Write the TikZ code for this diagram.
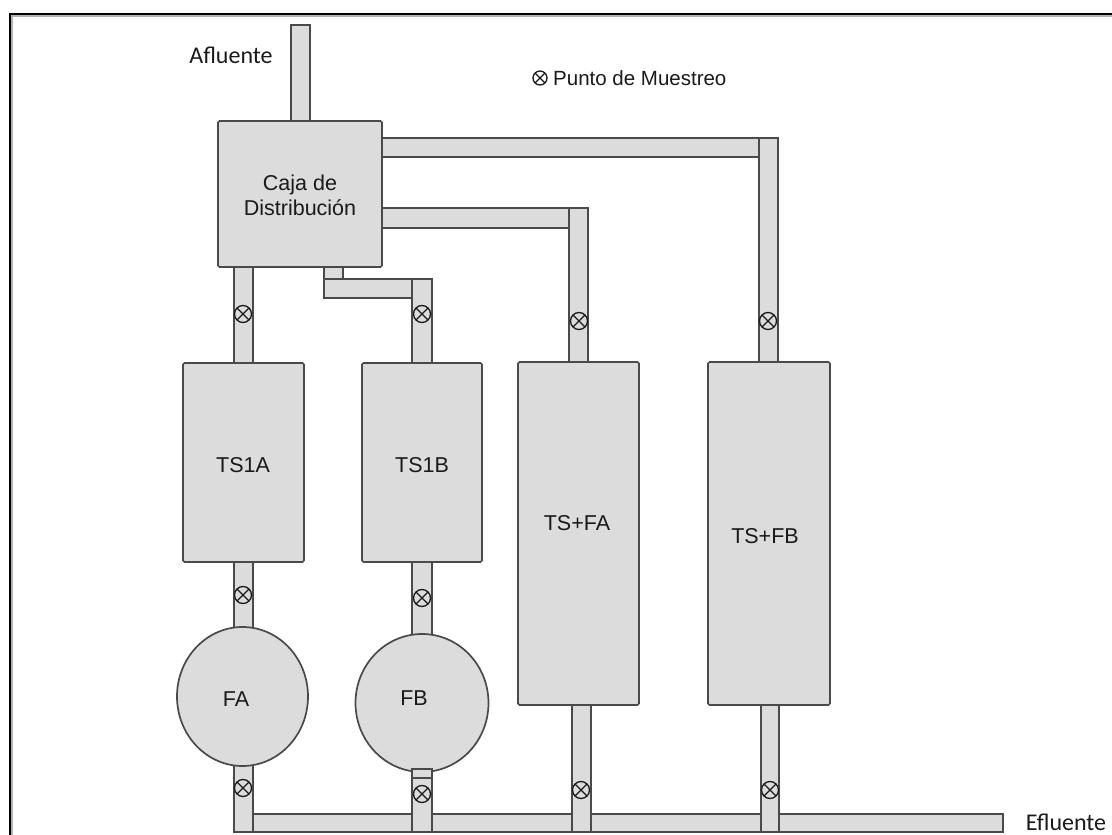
\documentclass[tikz,border=0pt]{standalone}
\usepackage{fontspec}
\setmainfont{Liberation Sans}
\newfontfamily\calfont{Carlito}
\usetikzlibrary{shapes.geometric}
\definecolor{pipefill}{HTML}{DCDCDC}
\definecolor{edge}{HTML}{4A4A4A}
\definecolor{ink}{HTML}{1A1A1A}
\begin{document}
\begin{tikzpicture}[x=1pt,y=-1pt,
  pipe/.style={fill=pipefill,draw=edge,line width=1.5pt},
  tank/.style={fill=pipefill,draw=edge,line width=1.7pt,rounded corners=1.5pt,inner sep=0pt},
  lbl/.style={font=\fontsize{21.5}{25}\selectfont,text=ink,inner sep=0pt},
  cal/.style={font=\calfont\fontsize{24}{28}\selectfont,text=ink,inner sep=0pt},
  smp/.style={circle,draw=ink,line width=1.3pt,minimum size=17pt,inner sep=0pt,fill=pipefill,
    path picture={\draw[ink,line width=1.1pt] (path picture bounding box.north west)--(path picture bounding box.south east)
      (path picture bounding box.south west)--(path picture bounding box.north east);}}]
\useasboundingbox (0,0) rectangle (1112,835);
\fill[white] (0,0) rectangle (1112,835);
% frame
\draw[gray!60,line width=1.5pt] (12,835) -- (12,16) -- (1112,16);
\draw[black,line width=2pt] (10,835) -- (10,14) -- (1112,14);

% pipes
\draw[pipe] (291,25) rectangle (310,121);          % afluente
\draw[pipe] (382,138) rectangle (759,157);
\draw[pipe] (759,138) rectangle (778,362);
\draw[pipe] (382,208) rectangle (569,228);
\draw[pipe] (569,208) rectangle (588,362);
\draw[pipe] (324,266) rectangle (343,279);
\draw[pipe] (324,279) rectangle (412,298);
\draw[pipe] (412,279) rectangle (432,363);
\draw[pipe] (234,266) rectangle (253,363);
\draw[pipe] (234,561) rectangle (253,628);
\draw[pipe] (412,561) rectangle (432,635);
% effluent
\draw[pipe] (253,814) rectangle (1003,832);
\draw[pipe] (234,765) rectangle (253,832);
\draw[pipe] (412,769) rectangle (432,832);
\draw[pipe] (572,704) rectangle (591,832);
\draw[pipe] (761,704) rectangle (779,832);

% tanks
\node[tank,minimum width=164pt,minimum height=146pt] (caja) at (300,194) {};
\node[tank,minimum width=121pt,minimum height=199pt] (ts1a) at (243.5,462.5) {};
\node[tank,minimum width=120pt,minimum height=199pt] (ts1b) at (422,462.5) {};
\node[tank,minimum width=121pt,minimum height=343pt] (tsfa) at (578.5,533.5) {};
\node[tank,minimum width=122pt,minimum height=343pt] (tsfb) at (769,533.5) {};
\node[tank,ellipse,minimum width=131pt,minimum height=139pt] (fa) at (242.5,696.5) {};
\node[tank,ellipse,minimum width=133pt,minimum height=138pt] (fb) at (422,703) {};
\draw[pipe] (412,769) rectangle (432,778);

% labels
\node[lbl,align=center] (cajat) at (300,195) {Caja de\\Distribución};
\node[lbl] (ts1at) at (243,465) {TS1A};
\node[lbl] (ts1bt) at (422,465) {TS1B};
\node[lbl] (tsfat) at (577,523) {TS+FA};
\node[lbl] (tsfbt) at (765,536) {TS+FB};
\node[lbl] (fat) at (236,699) {FA};
\node[lbl] (fbt) at (414,698) {FB};
\node[cal] (afl) at (231,55) {Afluente};
\node[cal] (efl) at (1066,822) {Efluente};

% sampling points
\node[smp] (m1) at (243,314) {};
\node[smp] (m2) at (422,314) {};
\node[smp] (m3) at (579,321) {};
\node[smp] (m4) at (768,321) {};
\node[smp] (m5) at (243,595) {};
\node[smp] (m6) at (422,598) {};
\node[smp] (m7) at (243,788) {};
\node[smp] (m8) at (422,794) {};
\node[smp] (m9) at (581,790) {};
\node[smp] (m10) at (770,790) {};
% legend
\node[smp,fill=white,minimum size=14pt] (leg) at (540,78) {};
\node[lbl,font=\fontsize{20.5}{24}\selectfont,anchor=west] (legt) at (553,78) {Punto de Muestreo};
\end{tikzpicture}
\end{document}
